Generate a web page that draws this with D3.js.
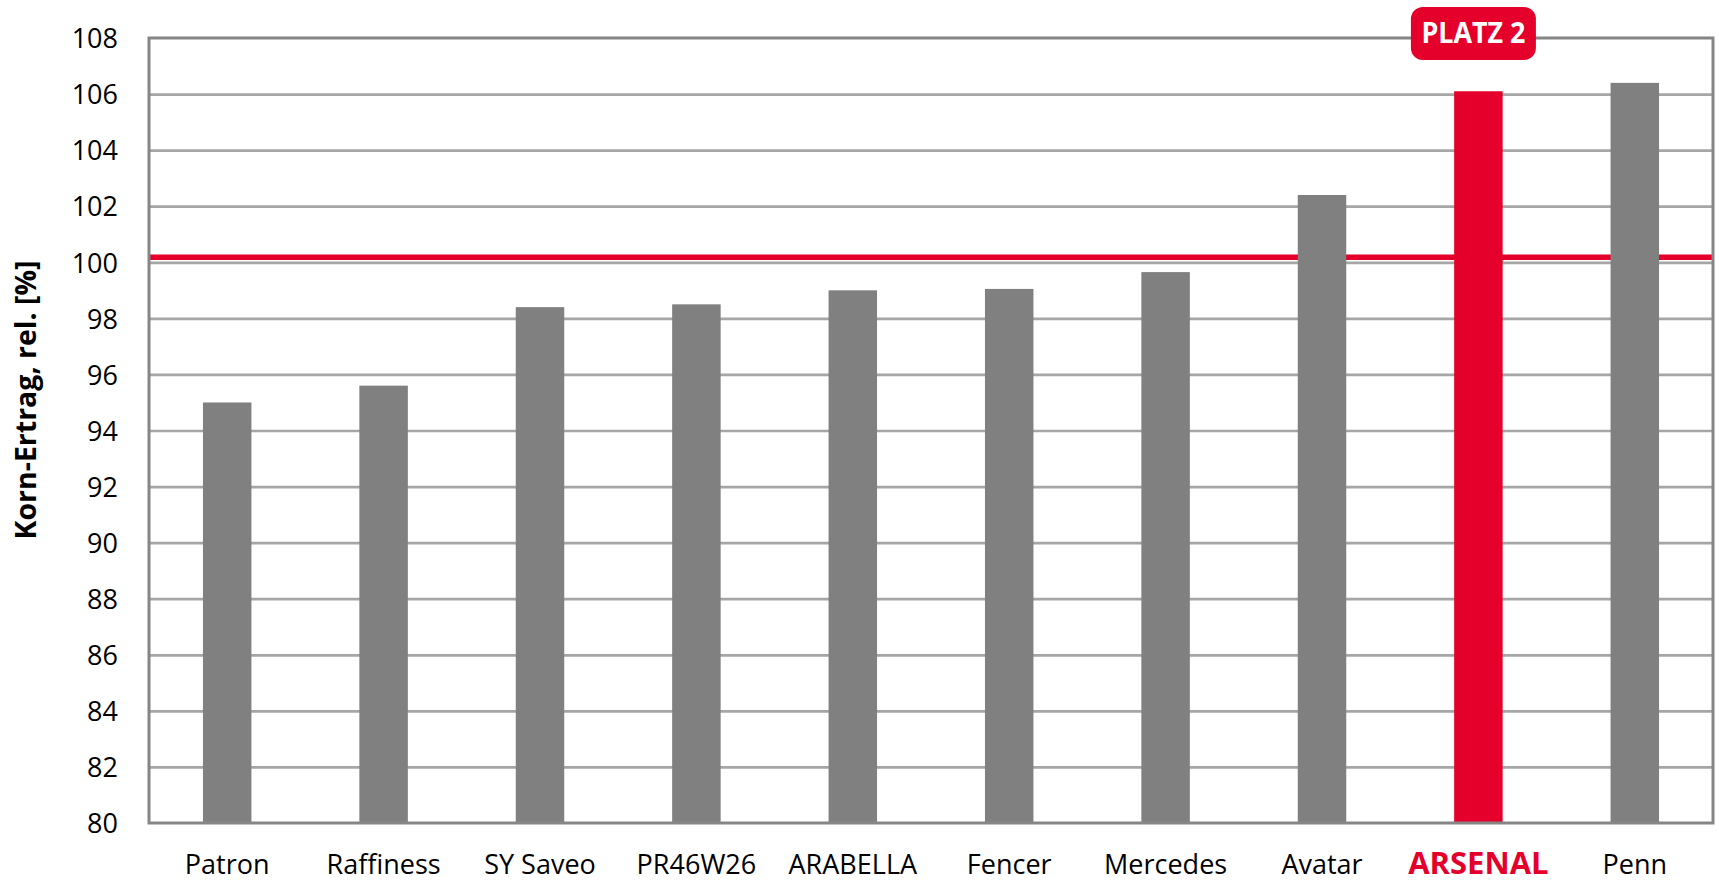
<!DOCTYPE html>
<html lang="de">
<head>
    <meta charset="UTF-8">
    <title>Korn-Ertrag relativ</title>
    <script src="https://d3js.org/d3.v7.min.js"></script>
    <style>
        body { margin: 0; background: #fff; }
        svg text { font-family: "Open Sans", sans-serif; fill: #000; }
    </style>
</head>
<body>
    <svg width="1719" height="882"></svg>

    <script>
        // Daten
        const sorten = ["Patron", "Raffiness", "SY Saveo", "PR46W26", "ARABELLA", "Fencer", "Mercedes", "Avatar", "ARSENAL", "Penn"];
        const ertrag = [95.0, 95.6, 98.4, 98.5, 99.0, 99.05, 99.65, 102.4, 106.1, 106.4];
        const yTicks = [80, 82, 84, 86, 88, 90, 92, 94, 96, 98, 100, 102, 104, 106, 108];
        const referenz = 100.18;
        const highlight = "ARSENAL";
        const badgeText = "PLATZ 2";

        const rot = "#e4002b", grau = "#808080";
        const plotL = 149, plotR = 1713, plotT = 38, plotB = 823;

        const svg = d3.select("svg");

        const x = d3.scaleBand().domain(sorten).range([plotL, plotR])
            .paddingInner(0.69).paddingOuter(0.345);
        const y = d3.scaleLinear().domain([80, 108]).range([plotB, plotT]);

        // Gitterlinien
        svg.append("g")
            .attr("transform", `translate(${plotL},0)`)
            .call(d3.axisLeft(y).tickValues(yTicks.filter(t => t > 80 && t < 108)).tickSize(-(plotR - plotL)).tickFormat(""))
            .call(g => g.select(".domain").remove())
            .call(g => g.selectAll("line").attr("stroke", "#a6a6a6").attr("stroke-width", 2.7));

        // Referenzlinie 100 %
        svg.append("line")
            .attr("x1", plotL).attr("x2", plotR)
            .attr("y1", y(referenz)).attr("y2", y(referenz))
            .attr("stroke", rot).attr("stroke-width", 5.5);

        // Balken
        svg.selectAll("rect.bar")
            .data(sorten)
            .enter().append("rect")
            .attr("class", "bar")
            .attr("x", d => x(d))
            .attr("width", x.bandwidth())
            .attr("y", (d, i) => y(ertrag[i]))
            .attr("height", (d, i) => y(80) - y(ertrag[i]))
            .attr("fill", d => d === highlight ? rot : grau);

        // Rahmen
        svg.append("rect")
            .attr("x", plotL).attr("y", plotT)
            .attr("width", plotR - plotL).attr("height", plotB - plotT)
            .attr("fill", "none").attr("stroke", "#868686").attr("stroke-width", 3);

        // Y-Achse
        svg.append("g")
            .attr("transform", `translate(${plotL},0)`)
            .call(d3.axisLeft(y).tickValues(yTicks).tickSize(0).tickPadding(31))
            .call(g => g.select(".domain").remove())
            .call(g => g.selectAll("text")
                .style("font-family", "'Open Sans', sans-serif")
                .style("font-size", "27px")
                .style("fill", "#000")
                .attr("dy", "0.36em"));

        // X-Achse
        svg.append("g")
            .attr("transform", `translate(0,${plotB})`)
            .call(d3.axisBottom(x).tickSize(0))
            .call(g => g.select(".domain").remove())
            .call(g => g.selectAll("text")
                .attr("y", 51).attr("dy", null)
                .style("font-family", "'Open Sans', sans-serif")
                .style("font-size", d => d === highlight ? "31px" : "27px")
                .style("font-weight", d => d === highlight ? "bold" : "normal")
                .style("fill", d => d === highlight ? rot : "#000"));

        // Achsentitel
        svg.append("text")
            .attr("transform", `translate(36,400) rotate(-90)`)
            .attr("text-anchor", "middle")
            .style("font-size", "28.5px")
            .style("font-weight", "bold")
            .text("Korn-Ertrag, rel. [%]");

        // Platz-Markierung
        const bx = x(highlight) + x.bandwidth() / 2 - 5;
        const badge = svg.append("g").attr("transform", `translate(${bx},33)`);
        badge.append("rect")
            .attr("x", -62.5).attr("y", -26)
            .attr("width", 125).attr("height", 53)
            .attr("rx", 12).attr("fill", rot);
        badge.append("text")
            .attr("text-anchor", "middle")
            .attr("dy", "0.36em")
            .attr("textLength", 104)
            .attr("lengthAdjust", "spacingAndGlyphs")
            .style("font-size", "29px")
            .style("font-weight", "bold")
            .style("fill", "#fff")
            .text(badgeText);
    </script>
</body>
</html>
